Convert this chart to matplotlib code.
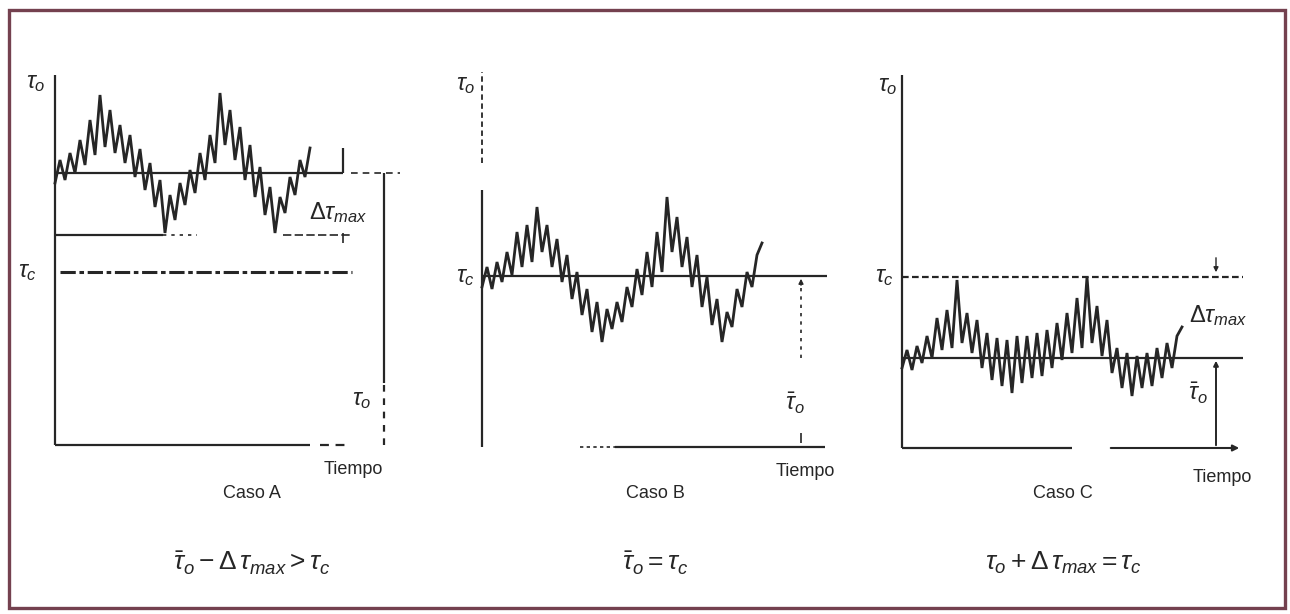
import numpy as np
import matplotlib
matplotlib.use("Agg")
import matplotlib.pyplot as plt
from matplotlib.patches import Rectangle
from matplotlib import font_manager

# ---------------- data ----------------
# shear stress tau_o sampled every 5 time units (arbitrary units, axis origin = 0)
step = 5
tau_A = [262, 285, 265, 292, 272, 305, 280, 325, 290, 350, 298, 335, 292, 320, 282, 310,
         268, 296, 255, 282, 238, 265, 212, 250, 225, 262, 240, 275, 252, 292, 265, 310,
         282, 352, 300, 335, 285, 318, 265, 300, 248, 278, 230, 258, 212, 248, 232, 268,
         250, 285, 268, 297]
tau_B = [160, 180, 158, 185, 165, 195, 172, 215, 180, 222, 185, 240, 195, 222, 180, 208,
         165, 192, 148, 175, 132, 158, 115, 145, 105, 138, 118, 145, 125, 160, 140, 178,
         152, 195, 160, 215, 175, 250, 195, 230, 180, 210, 160, 192, 140, 170, 122, 148,
         105, 135, 120, 158, 140, 175, 160, 192, 204]
tau_C = [80, 98, 78, 102, 85, 112, 90, 130, 98, 138, 100, 168, 105, 135, 95, 128,
         80, 115, 68, 110, 62, 108, 55, 112, 65, 112, 70, 115, 72, 118, 80, 125,
         88, 135, 95, 150, 100, 171, 105, 142, 92, 128, 75, 100, 60, 95, 52, 92,
         60, 95, 62, 100, 70, 105, 80, 112, 121]

# reference levels (mean stress, mean - max fluctuation, critical stress)
A_mean, A_low, A_crit = 272, 210, 173
B_mean, B_crit = 171, 171
C_mean, C_crit = 90, 171

cases = ["Caso A", "Caso B", "Caso C"]
conditions = [r"$\bar{\tau}_o - \Delta\,\tau_{max} > \tau_c$",
              r"$\bar{\tau}_o = \tau_c$",
              r"$\tau_o + \Delta\,\tau_{max} = \tau_c$"]
xlabel = "Tiempo"

# ---------------- style ----------------
names = {f.name for f in font_manager.fontManager.ttflist}
narrow = "Liberation Sans Narrow" if "Liberation Sans Narrow" in names else "Liberation Sans"
plt.rcParams["font.family"] = ["Liberation Sans", "DejaVu Sans"]
plt.rcParams["mathtext.fontset"] = "custom"
plt.rcParams["mathtext.rm"] = "Liberation Sans"
plt.rcParams["mathtext.it"] = "Liberation Sans:italic"
plt.rcParams["mathtext.bf"] = "Liberation Sans:bold"

INK = "#262626"
W, H = 1290, 614
fig = plt.figure(figsize=(W / 100, H / 100), dpi=100)
fig.patch.set_facecolor("white")

# frame
fig.add_artist(Rectangle((9 / W, 1 - 608 / H), (1285 - 9) / W, (608 - 10) / H,
                         transform=fig.transFigure, fill=False,
                         edgecolor="#74414f", linewidth=2.4))


def panel(ox, oy, w, h):
    ax = fig.add_axes([ox / W, 1 - oy / H, w / W, h / H])
    ax.set_xlim(0, w)
    ax.set_ylim(0, h)
    ax.axis("off")
    return ax


def ln(ax, x, y, ls="-", lw=1.6, **kw):
    ax.plot(x, y, color=INK, lw=lw, ls=ls, solid_capstyle="butt", clip_on=False, **kw)


def signal(ax, vals):
    t = np.arange(len(vals)) * step
    ax.plot(t, vals, color=INK, lw=2.0, solid_joinstyle="miter", clip_on=False)
    return t[-1]


TAU = dict(fontsize=17, color=INK, clip_on=False)
TXT = dict(fontsize=13, family=narrow, color=INK, stretch="condensed")

# ---------------- Panel A ----------------
ax = panel(55, 445, 350, 372)
ln(ax, [0, 0], [0, 370])
ln(ax, [0, 255], [0, 0])
ln(ax, [265, 295], [0, 0], ls=(0, (4, 3)))
signal(ax, tau_A)
ln(ax, [0, 288], [A_mean, A_mean])
ln(ax, [288, 288], [A_mean, A_mean + 25])
ln(ax, [296, 345], [A_mean, A_mean], ls=(0, (4, 3)), lw=1.2)
ln(ax, [0, 108], [A_low, A_low])
ln(ax, [108, 142], [A_low, A_low], ls=(0, (2, 3)), lw=1.2)
ln(ax, [228, 298], [A_low, A_low], ls=(0, (5, 2)), lw=1.2)
ln(ax, [288, 288], [A_low - 8, A_low + 2], lw=1.2)
ln(ax, [5, 297], [A_crit, A_crit], ls=(0, (5, 1.2, 1.5, 1.2)), lw=2.2)
ln(ax, [329, 329], [A_mean, 62])
ln(ax, [329, 329], [60, 0], ls=(0, (3, 3)))
ax.text(-10, 362, r"$\tau_o$", ha="right", va="center", **TAU)
ax.text(-18, 173, r"$\tau_c$", ha="right", va="center", **TAU)
ax.text(283, 232, r"$\Delta\tau_{max}$", ha="center", va="center", **TAU)
ax.text(307, 45, r"$\tau_o$", ha="center", va="center", **TAU)
ax.text(298, -25, xlabel, ha="center", va="center", **TXT)

# ---------------- Panel B ----------------
ax = panel(482, 447, 350, 375)
ln(ax, [0, 0], [0, 257])
ln(ax, [0, 0], [284, 375], ls=(0, (3, 2)), lw=1.3)
ln(ax, [98, 133], [0, 0], ls=(0, (2, 2)), lw=1.2)
ln(ax, [133, 343], [0, 0])
signal(ax, tau_B)
ln(ax, [0, 345], [B_crit, B_crit])
ax.annotate("", xy=(319, B_crit), xytext=(319, B_crit - 12),
            arrowprops=dict(arrowstyle="-|>", color=INK, lw=1, mutation_scale=7))
ln(ax, [319, 319], [B_crit - 12, 88], ls=(0, (2, 3)), lw=1.2)
ln(ax, [319, 319], [14, 4], lw=1.2)
ax.text(-7, 362, r"$\tau_o$", ha="right", va="center", **TAU)
ax.text(-7, 170, r"$\tau_c$", ha="right", va="center", **TAU)
ax.text(313, 44, r"$\bar{\tau}_o$", ha="center", va="center", **TAU)
ax.text(323, -25, xlabel, ha="center", va="center", **TXT)

# ---------------- Panel C ----------------
ax = panel(902, 448, 345, 375)
ln(ax, [0, 0], [0, 373])
ln(ax, [0, 170], [0, 0])
ax.annotate("", xy=(340, 0), xytext=(206, 0),
            arrowprops=dict(arrowstyle="-|>", color=INK, lw=1.5, mutation_scale=9))
signal(ax, tau_C)
ln(ax, [0, 341], [C_crit, C_crit], ls=(0, (3, 1.5)), lw=1.6)
ln(ax, [0, 341], [C_mean, C_mean])
ax.annotate("", xy=(314, C_crit + 2), xytext=(314, C_crit + 22),
            arrowprops=dict(arrowstyle="-|>", color=INK, lw=1, mutation_scale=7))
ax.annotate("", xy=(314, C_mean), xytext=(314, 0),
            arrowprops=dict(arrowstyle="-|>", color=INK, lw=1.4, mutation_scale=7))
ax.text(-5, 362, r"$\tau_o$", ha="right", va="center", **TAU)
ax.text(-8, 171, r"$\tau_c$", ha="right", va="center", **TAU)
ax.text(316, 132, r"$\Delta\tau_{max}$", ha="center", va="center", **TAU)
ax.text(296, 55, r"$\bar{\tau}_o$", ha="center", va="center", **TAU)
ax.text(320, -30, xlabel, ha="center", va="center", **TXT)

# ---------------- captions ----------------
for xc, cs, cond in zip([252, 655, 1063], cases, conditions):
    fig.text(xc / W, 1 - 494 / H, cs, ha="center", va="center", **TXT)
    fig.text(xc / W, 1 - 563 / H, cond, ha="center", va="center", fontsize=19, color=INK)

fig.savefig("out.png", dpi=100, facecolor="white")
